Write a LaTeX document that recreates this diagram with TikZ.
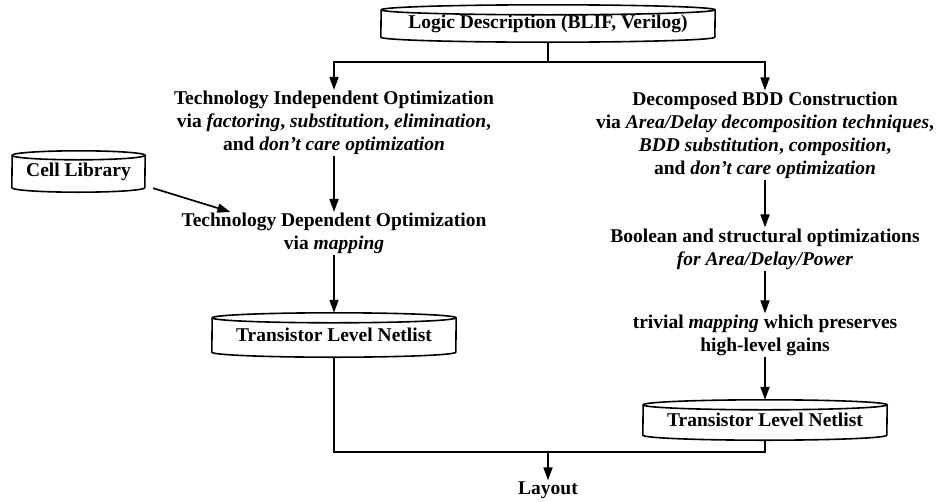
\documentclass[tikz,border=0pt]{standalone}
\usepackage{fontspec}
\setmainfont{Liberation Serif}
\usetikzlibrary{arrows.meta,calc}
\newcommand{\drawdrum}[3]{%
  \draw[drumline] ([yshift=#3]#1.south west) arc[start angle=180,end angle=360,x radius=#2,y radius=#3]
    -- ([yshift=-#3]#1.north east) arc[start angle=0,end angle=180,x radius=#2,y radius=#3] -- cycle;
  \draw[drumline] ([yshift=-#3]#1.north west) arc[start angle=180,end angle=360,x radius=#2,y radius=#3];
}
\tikzset{
  txt/.style={font=\bfseries\fontsize{19.5}{23}\selectfont, align=center, inner sep=1pt},
  drum/.style={txt, inner sep=0pt, draw=none},
  drumline/.style={line width=1.6pt, line join=round},
  conn/.style={line width=1.7pt},
  arr/.style={conn, -{Triangle[length=13pt,width=9pt]}},
}
\begin{document}
\begin{tikzpicture}[x=1pt,y=-1pt]
\useasboundingbox[fill=white] (0,0) rectangle (950,501);

% top box
\node[drum, minimum width=334pt, minimum height=37pt] (logic) at (548,23.5) {\raisebox{-3pt}{Logic Description (BLIF, Verilog)}};
\drawdrum{logic}{167pt}{5pt}

% left column
\node[txt] (tio) at (334,123) {Technology Independent Optimization\\ via \textit{factoring}, \textit{substitution}, \textit{elimination},\\ and \textit{don't care optimization}};
\node[txt] (tdo) at (334,233.5) {Technology Dependent Optimization\\ via \textit{mapping}};
\node[drum, minimum width=244pt, minimum height=44pt] (lnet) at (334,335) {\raisebox{-3pt}{Transistor Level Netlist}};
\drawdrum{lnet}{122pt}{5pt}

% cell library
\node[drum, minimum width=133pt, minimum height=41pt] (cell) at (78.5,171.5) {\raisebox{-3pt}{Cell Library}};
\drawdrum{cell}{66.5pt}{4.5pt}

% right column
\node[txt] (bdd) at (765,135) {Decomposed BDD Construction\\ via \textit{Area/Delay decomposition techniques},\\ \textit{BDD substitution}, \textit{composition},\\ and \textit{don't care optimization}};
\node[txt] (bso) at (765,249) {Boolean and structural optimizations\\ \textit{for Area/Delay/Power}};
\node[txt] (triv) at (765,335) {trivial \textit{mapping} which preserves\\ high-level gains};
\node[drum, minimum width=244pt, minimum height=40pt] (rnet) at (765,420) {\raisebox{-3pt}{Transistor Level Netlist}};
\drawdrum{rnet}{122pt}{5pt}

\node[txt] (layout) at (548,490) {Layout};

% connectors
\coordinate (jt) at (548,62);
\coordinate (jtl) at (334,62);
\coordinate (jtr) at (765,62);
\draw[conn] (logic.south) -- (jt);
\draw[arr] (jt) -- (jtl) -- (tio.north);
\draw[arr] (jt) -- (jtr) -- (bdd.north);
\draw[arr] (tio) -- (tdo);
\draw[arr] (tdo) -- (lnet.north);
\draw[arr] ([xshift=8pt,yshift=4pt]cell.south east) -- ($(tdo.north west)+(50,0)$);
\draw[arr] (bdd) -- (bso);
\draw[arr] (bso) -- (triv);
\draw[arr] (triv) -- (rnet.north);
\coordinate (jb) at (548,452);
\draw[conn] (lnet.south) |- (jb) -| (rnet.south);
\draw[arr] (jb) -- (layout.north);
\end{tikzpicture}
\end{document}
